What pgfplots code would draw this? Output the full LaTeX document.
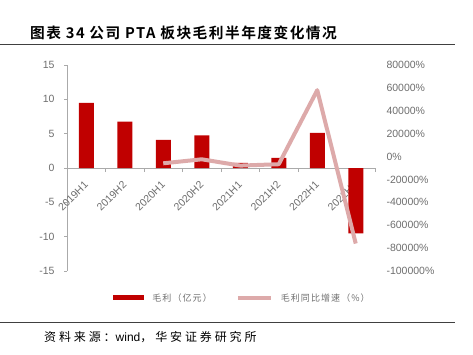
\documentclass[border=0pt]{standalone}
\usepackage{fontspec}
\usepackage{pgfplots}
\pgfplotsset{compat=1.18}
\setmainfont{Liberation Sans}
\newfontfamily\cjk{Noto Sans CJK SC}
\newfontfamily\cjktitle[LetterSpace=10]{Noto Sans CJK SC Bold}
\newfontfamily\cjksrc[LetterSpace=24]{Noto Sans CJK SC}
\newfontfamily\cjkleg[LetterSpace=12]{Noto Sans CJK SC}
\definecolor{barred}{RGB}{192,0,0}
\definecolor{linepink}{RGB}{221,170,170}
\definecolor{labgray}{RGB}{110,110,110}
\definecolor{axgray}{RGB}{170,170,170}
\begin{document}
\begin{tikzpicture}
\useasboundingbox (0pt,0pt) rectangle (473pt,-355pt);
\node[anchor=west,inner sep=0pt] at (30pt,-32.5pt) {\fontsize{14.7}{16}\cjktitle 图表 34 公司 PTA 板块毛利半年度变化情况};
\draw[color=black!75, line width=0.8pt] (0pt,-44pt) -- (455pt,-44pt);
\draw[color=black!75, line width=0.8pt] (0pt,-322pt) -- (455pt,-322pt);
\node[anchor=west,inner sep=0pt] at (44pt,-337pt) {\fontsize{12}{13}\selectfont\cjksrc 资料来源：\rmfamily wind\cjksrc ，华安证券研究所};
\begin{axis}[
  at={(67pt,-271pt)}, anchor=south west,
  scale only axis, width=308pt, height=206pt,
  xmin=-0.5, xmax=7.5, ymin=-15, ymax=15,
  axis y line=left, axis x line=middle,
  axis line style={-, color=axgray, line width=0.8pt},
  ytick={-15,-10,...,15},
  xtick={0,...,7},
  xticklabels={2019H1,2019H2,2020H1,2020H2,2021H1,2021H2,2022H1,2022H2},
  minor xtick={-0.5,0.5,...,7.5},
  major x tick style={draw=none},
  minor x tick style={color=axgray, line width=0.8pt},
  y tick style={color=axgray, line width=0.8pt},
  tick align=outside,
  major tick length=3pt, minor tick length=4pt,
  hide obscured x ticks=false, hide obscured y ticks=false,
  /pgf/number format/assume math mode=true,
  yticklabel style={font=\fontsize{10.5}{12}\selectfont, color=labgray, xshift=-6pt},
  xticklabel style={font=\fontsize{10.5}{12}\selectfont, color=labgray, xshift=0pt, yshift=-12pt, rotate=45, anchor=east, inner sep=0pt},
  legend columns=2,
  legend style={at={(0.57,-0.131)}, anchor=center, draw=none, fill=none,
    font=\fontsize{9}{10}\selectfont\cjkleg\color{labgray}, column sep=6pt,
    /tikz/every even column/.append style={column sep=22pt}},
  clip=false,
]
\addplot[ybar, bar width=15pt, fill=barred, draw=none,
  legend image code/.code={\fill[barred] (0pt,-2.5pt) rectangle (31pt,2.5pt);}]
  coordinates {(0,9.5) (1,6.75) (2,4.1) (3,4.76) (4,0.73) (5,1.46) (6,5.1) (7,-9.52)};
\addlegendentry{毛利（亿元）}
\addlegendimage{legend image code/.code={\draw[linepink, line width=4pt] (0pt,0pt) -- (33pt,0pt);}}
\addlegendentry{毛利同比增速（\%）}
\end{axis}
\begin{axis}[
  at={(67pt,-271pt)}, anchor=south west,
  scale only axis, width=308pt, height=206pt,
  xmin=-0.5, xmax=7.5, ymin=-100000, ymax=80000,
  axis x line=none, axis y line*=right,
  y axis line style={draw=none},
  scaled y ticks=false,
  ytick={-100000,-80000,...,80000},
  yticklabels={-100000\%,-80000\%,-60000\%,-40000\%,-20000\%,0\%,20000\%,40000\%,60000\%,80000\%},
  major tick length=0pt,
  yticklabel style={font=\fontsize{10.5}{12}\selectfont, color=labgray, anchor=west, xshift=8pt},
  clip=false,
]
\addplot[linepink, line width=4pt, line join=round] coordinates {(2,-5900) (3,-2400) (4,-7900) (5,-6700) (6,58000) (7,-76000)};
\end{axis}
\end{tikzpicture}
\end{document}
